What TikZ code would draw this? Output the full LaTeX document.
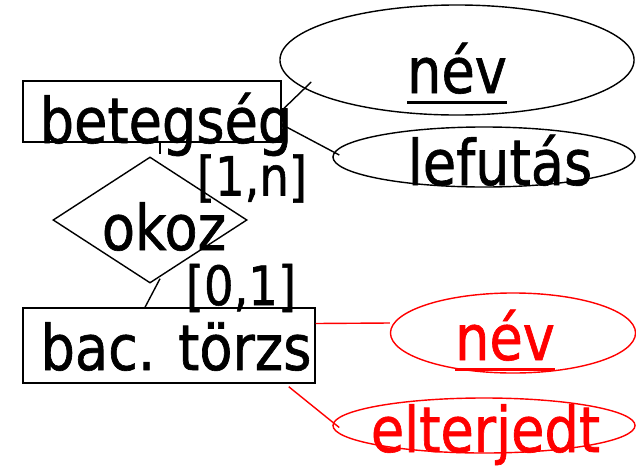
\documentclass[tikz,border=0pt]{standalone}
\usepackage{fontspec}
\setmainfont[FakeStretch=0.86, FakeBold=1]{DejaVu Sans}
\usetikzlibrary{shapes.geometric}
\newcommand{\kulcs}[1]{\setbox0\hbox{#1}\rlap{\raisebox{-7.6pt}{\rule{\wd0}{2.2pt}}}\box0}

\begin{document}
\begin{tikzpicture}[x=0.025cm, y=-0.025cm,
  entity/.style={draw, line width=1pt, inner sep=0pt},
  attr/.style={draw, ellipse, line width=1pt, inner sep=0pt},
  rel/.style={draw, diamond, line width=1pt, inner sep=0pt},
  big/.style={inner sep=0pt, anchor=base, font=\fontsize{44.8}{50}\selectfont},
  card/.style={inner sep=0pt, anchor=base, font=\fontsize{38.5}{44}\selectfont},
  conn/.style={line width=1pt}]

\useasboundingbox (0,0) rectangle (636,467);

\node[entity, minimum width=6.45cm, minimum height=1.525cm] (beteg) at (152,111.5) {};
\node[rel, minimum width=4.85cm, minimum height=3.15cm, aspect=1.54] (okoz) at (150,220) {};
\node[entity, minimum width=7.3cm, minimum height=1.875cm] (bac) at (169,345.5) {};

\node[attr, minimum width=8.85cm, minimum height=2.75cm] (nev) at (457,60) {};
\node[attr, minimum width=7.55cm, minimum height=1.5cm] (lefutas) at (484,157) {};
\node[attr, red, minimum width=6.125cm, minimum height=2cm] (bacnev) at (513,333) {};
\node[attr, red, minimum width=7.55cm, minimum height=1.375cm] (elterjedt) at (484,425.5) {};

\node[big] (betegtxt) at (166,143) {betegség};
\node[big] (okoztxt) at (164,250) {okoz};
\node[big] (bactxt) at (176,370) {bac. törzs};
\node[big] (nevtxt) at (457,93) {\kulcs{név}};
\node[big] (lefutastxt) at (500,185) {lefutás};
\node[big, red] (bacnevtxt) at (505,360) {\kulcs{név}};
\node[big, red] (elterjedttxt) at (485.5,452) {elterjedt};

\node[card] (egyn) at (252,195.5) {[1,n]};
\node[card] (nullaegy) at (241,305) {[0,1]};

\draw[conn] ([shift={(0,-1)}]beteg.east) -- ([shift={(32,22)}]nev.west);
\draw[conn] ([shift={(0,13)}]beteg.east) -- ([shift={(7,-2)}]lefutas.west);
\draw[conn] ([shift={(8,0)}]beteg.south) -- ([shift={(10,-2)}]okoz.north);
\draw[conn] ([shift={(10,-5)}]okoz.south) -- ([shift={(-24,0)}]bac.north);
\draw[conn, red] ([shift={(0,-22)}]bac.east) -- ([shift={(0,-10)}]bacnev.west);
\draw[conn, red] ([shift={(-27,3)}]bac.south east) -- ([shift={(7,2)}]elterjedt.west);

\end{tikzpicture}
\end{document}
